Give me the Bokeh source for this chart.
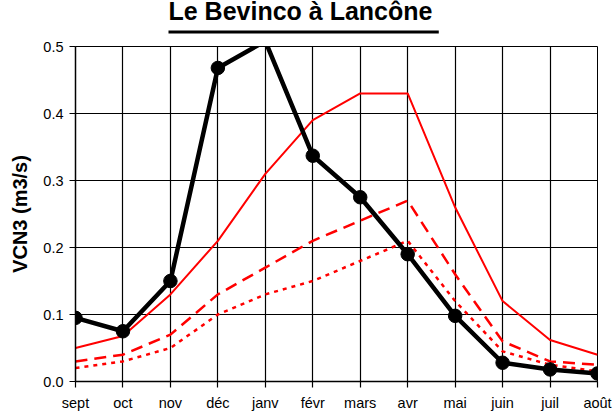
from bokeh.plotting import figure
from bokeh.models import FixedTicker, Range1d, Title
from bokeh.embed import file_html
from bokeh.resources import INLINE

months = ["sept", "oct", "nov", "déc", "janv", "févr", "mars", "avr", "mai", "juin", "juil", "août"]
vcn3_obs = [0.095, 0.075, 0.15, 0.468, 0.508, 0.337, 0.275, 0.19, 0.098, 0.028, 0.018, 0.012]
vcn3_high = [0.05, 0.068, 0.13, 0.21, 0.31, 0.39, 0.43, 0.43, 0.26, 0.12, 0.062, 0.04]
vcn3_mid = [0.03, 0.04, 0.07, 0.13, 0.17, 0.21, 0.24, 0.27, 0.16, 0.06, 0.03, 0.025]
vcn3_low = [0.02, 0.03, 0.05, 0.10, 0.13, 0.15, 0.18, 0.21, 0.12, 0.045, 0.025, 0.015]
y_ticks = [0.0, 0.1, 0.2, 0.3, 0.4, 0.5]
Y_MAX = 0.5

FONT = "Liberation Sans"
x = list(range(len(months)))

p = figure(width=614, height=414, output_backend="svg", toolbar_location=None,
           x_range=Range1d(0, len(months) - 1), y_range=Range1d(0, Y_MAX),
           min_border_left=75, min_border_right=17, min_border_top=46, min_border_bottom=33)

# underline bar of the title (sits between the frame and the title)
underline = Title(text=" ", align="left", offset=93, standoff=26,
                  text_font_size="1px", text_color="black",
                  background_fill_color="black", background_fill_alpha=1.0,
                  padding=dict(left=0, right=270, top=1, bottom=1))
p.add_layout(underline, "above")

p.title.text = "Le Bevinco à Lancône"
p.title.align = "left"
p.title.offset = 93
p.title.standoff = -18.5
p.title.text_font = FONT
p.title.text_font_size = "25px"
p.title.text_font_style = "bold"
p.title.text_color = "black"

p.outline_line_color = "black"
p.outline_line_width = 1

p.xaxis.ticker = FixedTicker(ticks=x)
p.xaxis.major_label_overrides = {i: m for i, m in enumerate(months)}
p.yaxis.ticker = FixedTicker(ticks=y_ticks)
p.yaxis.major_label_overrides = {t: f"{t:.1f}" for t in y_ticks}
p.yaxis.axis_label = "VCN3 (m3/s)"
p.yaxis.axis_label_text_font = FONT
p.yaxis.axis_label_text_font_size = "20px"
p.yaxis.axis_label_text_font_style = "bold"
p.yaxis.axis_label_text_color = "black"
p.yaxis.axis_label_standoff = 9

for ax in (p.xaxis, p.yaxis):
    ax.major_label_text_font = FONT
    ax.major_label_text_font_size = "14.5px"
    ax.major_label_text_color = "black"
    ax.axis_line_color = "black"
    ax.axis_line_width = 1.5
    ax.major_tick_line_color = "black"
    ax.major_tick_line_width = 1.2
    ax.major_tick_out = 6
    ax.major_tick_in = 0
    ax.minor_tick_line_color = None
p.xaxis.major_label_standoff = 7
p.yaxis.major_label_standoff = 6

for g in (p.xgrid, p.ygrid):
    g.grid_line_color = "black"
    g.grid_line_width = 1.2
    g.grid_line_alpha = 1.0
p.xgrid.ticker = FixedTicker(ticks=x)
p.ygrid.ticker = FixedTicker(ticks=y_ticks)

p.line(x, vcn3_high, line_color="red", line_width=2)
p.line(x, vcn3_mid, line_color="red", line_width=2.5, line_dash="12 7")
p.line(x, vcn3_low, line_color="red", line_width=2.5, line_dash="4 5")
p.line(x, vcn3_obs, line_color="black", line_width=4.5)

# markers are only drawn for points inside the axis range (as in the original)
mx = [xi for xi, v in zip(x, vcn3_obs) if v <= Y_MAX]
my = [v for v in vcn3_obs if v <= Y_MAX]
p.scatter(mx, my, size=13.5, fill_color="black", line_color="black")

open("out.html", "w").write(file_html(p, INLINE))
